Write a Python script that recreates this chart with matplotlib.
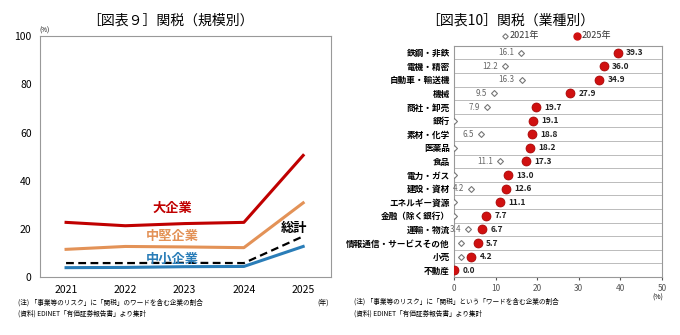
import matplotlib
matplotlib.use("Agg")
import matplotlib.pyplot as plt
from matplotlib.lines import Line2D
import numpy as np

plt.rcParams['font.family'] = ['Noto Sans CJK JP', 'DejaVu Sans']

# left chart: tariff mention ratio by company size
years = [2021, 2022, 2023, 2024, 2025]
large = [22.7, 21.3, 22.2, 22.7, 50.5]
mid = [11.5, 12.7, 12.5, 12.2, 30.8]
small = [3.9, 4.0, 4.3, 4.4, 12.7]
total = [5.8, 5.8, 5.9, 5.8, 16.9]

# right chart: by industry
industries = ["鉄鋼・非鉄", "電機・精密", "自動車・輸送機", "機械", "商社・卸売", "銀行",
              "素材・化学", "医薬品", "食品", "電力・ガス", "建設・資材", "エネルギー資源",
              "金融（除く銀行）", "運輸・物流", "情報通信・サービスその他", "小売", "不動産"]
v2021 = [16.1, 12.2, 16.3, 9.5, 7.9, 0.0, 6.5, 0.0, 11.1, 0.0, 4.2, 0.0, 0.0, 3.4, 1.7, 1.7, 0.0]
v2025 = [39.3, 36.0, 34.9, 27.9, 19.7, 19.1, 18.8, 18.2, 17.3, 13.0, 12.6, 11.1, 7.7, 6.7, 5.7, 4.2, 0.0]
label2021 = ["16.1", "12.2", "16.3", "9.5", "7.9", "", "6.5", "", "11.1", "", "4.2", "", "", "3.4", "", "", ""]

red = "#C00000"
orange = "#E39257"
blue = "#2A7DB8"
gray = "#999999"

fig = plt.figure(figsize=(6.8, 3.35), dpi=100)

# ---- left
ax1 = fig.add_axes([0.0588, 0.173, 0.428, 0.719])
ax1.plot(years, large, color=red, lw=2.2)
ax1.plot(years, mid, color=orange, lw=2.2)
ax1.plot(years, small, color=blue, lw=2.2)
ax1.plot(years, total, color="black", lw=1.6, ls=(0, (3.5, 2)))
ax1.set_xlim(2020.56, 2025.47)
ax1.set_ylim(0, 100)
ax1.set_xticks(years)
ax1.set_yticks([0, 20, 40, 60, 80, 100])
ax1.tick_params(length=0, labelsize=7.5, pad=6)
for s in ax1.spines.values():
    s.set_color(gray)
ax1.text(2022.8, 27, "大企業", color=red, fontsize=9.5, fontweight="bold", ha="center")
ax1.text(2022.8, 15.5, "中堅企業", color=orange, fontsize=9.5, fontweight="bold", ha="center")
ax1.text(2022.8, 5.8, "中小企業", color=blue, fontsize=9.5, fontweight="bold", ha="center")
ax1.text(2024.85, 18.5, "総計", color="black", fontsize=9.5, fontweight="bold", ha="center")

fig.text(0.25, 0.94, "［図表９］関税（規模別）", fontsize=10, ha="center", va="center")
fig.text(0.066, 0.908, "(%)", fontsize=4.5, ha="center", va="center")
fig.text(0.475, 0.097, "(年)", fontsize=5, ha="center", va="center")
fig.text(0.026, 0.097, "(注) 「事業等のリスク」に「関税」のワードを含む企業の割合", fontsize=4.8, va="center")
fig.text(0.026, 0.065, "(資料) EDINET「有価証券報告書」より集計", fontsize=4.8, va="center")

# ---- right
ax2 = fig.add_axes([0.6676, 0.173, 0.306, 0.69])
n = len(industries)
ypos = np.arange(n)
ax2.scatter(v2021, ypos, marker="D", s=9, facecolor="white", edgecolor="#777777", lw=0.8, zorder=3)
ax2.scatter(v2025, ypos, marker="o", s=42, color="#D01010", edgecolor="#A00000", lw=0.5, zorder=4)
for i in range(n):
    if label2021[i]:
        ax2.text(v2021[i] - 1.7, ypos[i], label2021[i], fontsize=5.8, color="#666666",
                 ha="right", va="center")
    ax2.text(v2025[i] + 2.0, ypos[i], "%.1f" % v2025[i], fontsize=6, fontweight="bold",
             color="#222222", ha="left", va="center")
ax2.set_ylim(n - 0.5, -0.5)
ax2.set_xlim(0, 50)
ax2.set_xticks([0, 10, 20, 30, 40, 50])
ax2.set_yticks(ypos)
ax2.set_yticklabels(industries, fontsize=6.2, fontweight="bold")
ax2.set_yticks(np.arange(n + 1) - 0.5, minor=True)
ax2.grid(which="minor", axis="y", color="#BBBBBB", lw=0.7)
ax2.tick_params(axis="y", which="both", length=0, pad=3)
ax2.tick_params(axis="x", length=2, labelsize=6, colors="#555555", pad=3)
for s in ax2.spines.values():
    s.set_color(gray)

# legend above the axes
fig.add_artist(Line2D([0.742], [0.894], marker="D", markersize=2.8, markerfacecolor="white",
                      markeredgecolor="#777777", markeredgewidth=0.8, ls="none"))
fig.add_artist(Line2D([0.849], [0.894], marker="o", markersize=5, color="#D01010", ls="none"))
fig.text(0.749, 0.894, "2021年", fontsize=6.5, ha="left", va="center", color="#333333")
fig.text(0.856, 0.894, "2025年", fontsize=6.5, ha="left", va="center", color="#333333")

fig.text(0.75, 0.94, "［図表10］関税（業種別）", fontsize=10, ha="center", va="center")
fig.text(0.967, 0.113, "(%)", fontsize=5, ha="center", va="center")
fig.text(0.52, 0.10, "(注) 「事業等のリスク」に「関税」という「ワードを含む企業の割合", fontsize=4.8, va="center")
fig.text(0.52, 0.065, "(資料) EDINET「有価証券報告書」より集計", fontsize=4.8, va="center")

fig.savefig("out.png", dpi=100)
